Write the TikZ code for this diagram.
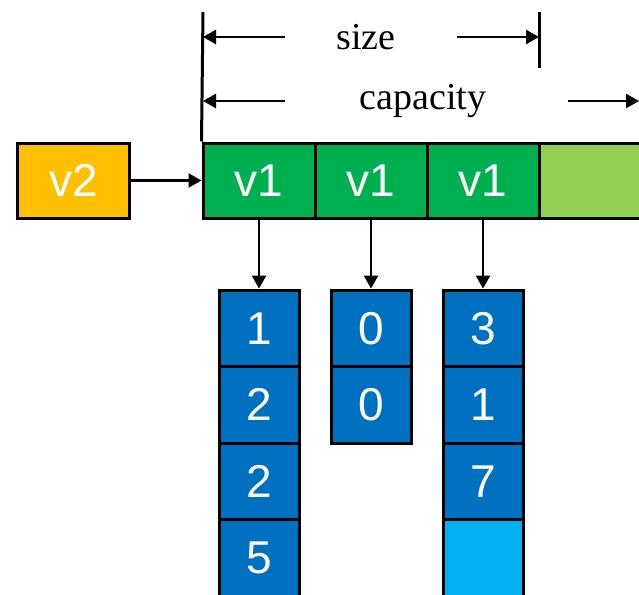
\documentclass[tikz,border=0pt]{standalone}
\usepackage{fontspec}
\setmainfont{Liberation Serif}
\setsansfont{Liberation Sans}
\usetikzlibrary{arrows.meta,positioning}

\definecolor{vorange}{HTML}{FFC000}
\definecolor{vgreen}{HTML}{00B050}
\definecolor{vlgreen}{HTML}{92D050}
\definecolor{vblue}{HTML}{0070C0}
\definecolor{vlblue}{HTML}{00B0F0}

\begin{document}
\begin{tikzpicture}[
		x=0.5pt, y=-0.5pt,
		line join=miter,
		>={Triangle[length=6.5pt, width=7pt]},
		cell/.style={draw=black, line width=1.5pt, minimum width=40pt, minimum height=38.25pt,
			inner sep=0pt, text=white, font=\sffamily\fontsize{23}{23}\selectfont},
		slot/.style={cell, minimum width=56pt, minimum height=37.5pt},
		arr/.style={->, line width=1.25pt},
		dim/.style={line width=1.5pt},
		lab/.style={font=\fontsize{19}{19}\selectfont, inner sep=0pt}
	]
	
	\useasboundingbox (0,0) rectangle (639,595);
	
	% Parameters
	\def\rowh{76.5}
	\def\rowtop{290}
	
	% Vector slots
	\node[slot, fill=vorange] (v2) at (73.5,180.5) {v2};
	\foreach \i/\x in {1/259,2/371,3/483} {
		\node[slot, fill=vgreen] (g\i) at (\x,180.5) {v1};
	}
	\node[slot, fill=vlgreen] (g4) at (595,180.5) {};
	
	% Element columns
	\foreach \v [count=\j] in {1,2,2,5} {
		\node[cell, fill=vblue] (a\j) at (259,{\rowtop+\rowh*(\j-0.5)}) {\v};
	}
	\foreach \v [count=\j] in {0,0} {
		\node[cell, fill=vblue] (b\j) at (371,{\rowtop+\rowh*(\j-0.5)}) {\v};
	}
	\foreach \v [count=\j] in {3,1,7} {
		\node[cell, fill=vblue] (c\j) at (483,{\rowtop+\rowh*(\j-0.5)}) {\v};
	}
	\node[cell, fill=vlblue] (c4) at (483,{\rowtop+\rowh*3.5}) {};
	
	% Pointers
	\draw[arr] (v2) -- (g1);
	\draw[arr] (g1) -- (a1);
	\draw[arr] (g2) -- (b1);
	\draw[arr] (g3) -- (c1);
	
	% Size and capacity
	\coordinate (dimtop) at (203,12);
	\coordinate (sizetop) at (539,12);
	\coordinate (sizebot) at (539,68);
	\draw[dim] (dimtop) -- (g1.north west);
	\draw[dim] (sizetop) -- (sizebot);
	
	\node[lab] (size) at (366,37) {size};
	\coordinate (sizeA) at (285,37);
	\coordinate (sizeB) at (203,37);
	\coordinate (sizeC) at (457,37);
	\coordinate (sizeD) at (539,37);
	\draw[arr] (sizeA) -- (sizeB);
	\draw[arr] (sizeC) -- (sizeD);
	
	\node[lab] (cap) at (423,101) {capacity};
	\coordinate (capA) at (285,101);
	\coordinate (capB) at (203,101);
	\coordinate (capC) at (568,101);
	\coordinate (capD) at (639,101);
	\draw[arr] (capA) -- (capB);
	\draw[arr] (capC) -- (capD);
	
\end{tikzpicture}
\end{document}
